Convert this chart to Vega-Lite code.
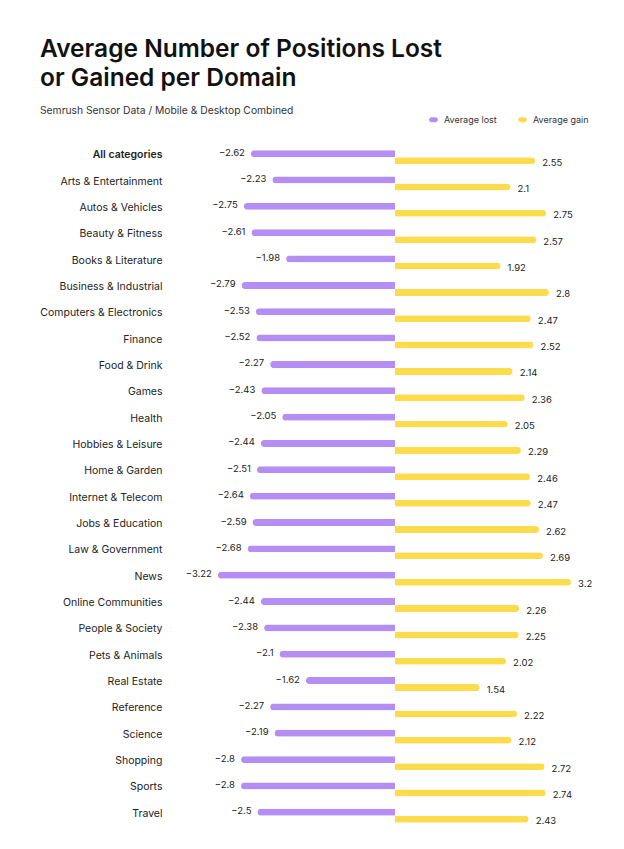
{
  "$schema": "https://vega.github.io/schema/vega-lite/v6.json",
  "autosize": {"type": "none"},
  "padding": {"left": 175, "top": 144, "right": 9, "bottom": 20},
  "width": 440,
  "height": 685,
  "background": "white",
  "title": {
    "text": ["Average Number of Positions Lost", "or Gained per Domain"],
    "subtitle": "Semrush Sensor Data / Mobile & Desktop Combined",
    "anchor": "start",
    "frame": "group",
    "dx": -135,
    "offset": -2,
    "font": "Inter",
    "fontSize": 24.5,
    "fontWeight": 600,
    "lineHeight": 29,
    "color": "#111111",
    "subtitleFont": "Inter",
    "subtitleFontSize": 10.3,
    "subtitleColor": "#333333",
    "subtitlePadding": 14
  },
  "config": {
    "view": {"stroke": null},
    "font": "Inter"
  },
  "data": {
    "values": [
      {"category": "All categories", "series": "Average lost", "value": -2.62},
      {"category": "All categories", "series": "Average gain", "value": 2.55},
      {"category": "Arts & Entertainment", "series": "Average lost", "value": -2.23},
      {"category": "Arts & Entertainment", "series": "Average gain", "value": 2.1},
      {"category": "Autos & Vehicles", "series": "Average lost", "value": -2.75},
      {"category": "Autos & Vehicles", "series": "Average gain", "value": 2.75},
      {"category": "Beauty & Fitness", "series": "Average lost", "value": -2.61},
      {"category": "Beauty & Fitness", "series": "Average gain", "value": 2.57},
      {"category": "Books & Literature", "series": "Average lost", "value": -1.98},
      {"category": "Books & Literature", "series": "Average gain", "value": 1.92},
      {"category": "Business & Industrial", "series": "Average lost", "value": -2.79},
      {"category": "Business & Industrial", "series": "Average gain", "value": 2.8},
      {"category": "Computers & Electronics", "series": "Average lost", "value": -2.53},
      {"category": "Computers & Electronics", "series": "Average gain", "value": 2.47},
      {"category": "Finance", "series": "Average lost", "value": -2.52},
      {"category": "Finance", "series": "Average gain", "value": 2.52},
      {"category": "Food & Drink", "series": "Average lost", "value": -2.27},
      {"category": "Food & Drink", "series": "Average gain", "value": 2.14},
      {"category": "Games", "series": "Average lost", "value": -2.43},
      {"category": "Games", "series": "Average gain", "value": 2.36},
      {"category": "Health", "series": "Average lost", "value": -2.05},
      {"category": "Health", "series": "Average gain", "value": 2.05},
      {"category": "Hobbies & Leisure", "series": "Average lost", "value": -2.44},
      {"category": "Hobbies & Leisure", "series": "Average gain", "value": 2.29},
      {"category": "Home & Garden", "series": "Average lost", "value": -2.51},
      {"category": "Home & Garden", "series": "Average gain", "value": 2.46},
      {"category": "Internet & Telecom", "series": "Average lost", "value": -2.64},
      {"category": "Internet & Telecom", "series": "Average gain", "value": 2.47},
      {"category": "Jobs & Education", "series": "Average lost", "value": -2.59},
      {"category": "Jobs & Education", "series": "Average gain", "value": 2.62},
      {"category": "Law & Government", "series": "Average lost", "value": -2.68},
      {"category": "Law & Government", "series": "Average gain", "value": 2.69},
      {"category": "News", "series": "Average lost", "value": -3.22},
      {"category": "News", "series": "Average gain", "value": 3.2},
      {"category": "Online Communities", "series": "Average lost", "value": -2.44},
      {"category": "Online Communities", "series": "Average gain", "value": 2.26},
      {"category": "People & Society", "series": "Average lost", "value": -2.38},
      {"category": "People & Society", "series": "Average gain", "value": 2.25},
      {"category": "Pets & Animals", "series": "Average lost", "value": -2.1},
      {"category": "Pets & Animals", "series": "Average gain", "value": 2.02},
      {"category": "Real Estate", "series": "Average lost", "value": -1.62},
      {"category": "Real Estate", "series": "Average gain", "value": 1.54},
      {"category": "Reference", "series": "Average lost", "value": -2.27},
      {"category": "Reference", "series": "Average gain", "value": 2.22},
      {"category": "Science", "series": "Average lost", "value": -2.19},
      {"category": "Science", "series": "Average gain", "value": 2.12},
      {"category": "Shopping", "series": "Average lost", "value": -2.8},
      {"category": "Shopping", "series": "Average gain", "value": 2.72},
      {"category": "Sports", "series": "Average lost", "value": -2.8},
      {"category": "Sports", "series": "Average gain", "value": 2.74},
      {"category": "Travel", "series": "Average lost", "value": -2.5},
      {"category": "Travel", "series": "Average gain", "value": 2.43}
    ]
  },
  "encoding": {
    "y": {
      "field": "category",
      "type": "nominal",
      "sort": null,
      "scale": {"paddingInner": 0.47, "paddingOuter": 0.235},
      "axis": {
        "title": null,
        "domain": false,
        "ticks": false,
        "labelPadding": 13,
        "labelFontSize": 10.5,
        "labelColor": "#222222",
        "labelFont": "Inter",
        "labelOffset": -2,
        "labelFontWeight": {"condition": {"test": "datum.value === 'All categories'", "value": 600}, "value": 400}
      }
    },
    "yOffset": {
      "field": "series",
      "type": "nominal",
      "scale": {"domain": ["Average lost", "Average gain"], "paddingInner": 0, "paddingOuter": 0}
    },
    "x": {
      "field": "value",
      "type": "quantitative",
      "scale": {"domain": [-4, 4], "nice": false, "zero": true},
      "axis": null
    }
  },
  "layer": [
    {
      "transform": [{"filter": "datum.series === 'Average lost'"}],
      "mark": {"type": "bar", "cornerRadiusTopLeft": 3.5, "cornerRadiusBottomLeft": 3.5},
      "encoding": {
        "color": {
          "field": "series",
          "type": "nominal",
          "scale": {"domain": ["Average lost", "Average gain"], "range": ["#b48ef3", "#fcdc4d"]},
          "legend": {
            "title": null,
            "orient": "none",
            "direction": "horizontal",
            "legendX": 254,
            "legendY": -29,
            "symbolType": "M-0.45,-0.6H0.45A0.6,0.6 0 0 1 0.45,0.6H-0.45A0.6,0.6 0 0 1 -0.45,-0.6Z",
            "symbolSize": 70,
            "symbolStrokeWidth": 0,
            "labelFontSize": 9,
            "labelColor": "#333333",
            "labelFont": "Inter",
            "columnPadding": 21,
            "labelOffset": 6
          }
        }
      }
    },
    {
      "transform": [{"filter": "datum.series === 'Average gain'"}],
      "mark": {"type": "bar", "cornerRadiusTopRight": 3.5, "cornerRadiusBottomRight": 3.5},
      "encoding": {
        "color": {"field": "series", "type": "nominal"}
      }
    },
    {
      "transform": [{"filter": "datum.series === 'Average lost'"}],
      "mark": {"type": "text", "align": "right", "baseline": "middle", "dx": -6, "dy": -1, "fontSize": 9.5, "font": "Inter", "color": "#222222"},
      "encoding": {
        "text": {"field": "value", "type": "quantitative", "format": ".3~g"}
      }
    },
    {
      "transform": [{"filter": "datum.series === 'Average gain'"}],
      "mark": {"type": "text", "align": "left", "baseline": "middle", "dx": 7, "dy": 2, "fontSize": 9.5, "font": "Inter", "color": "#222222"},
      "encoding": {
        "text": {"field": "value", "type": "quantitative", "format": ".3~g"}
      }
    }
  ]
}
